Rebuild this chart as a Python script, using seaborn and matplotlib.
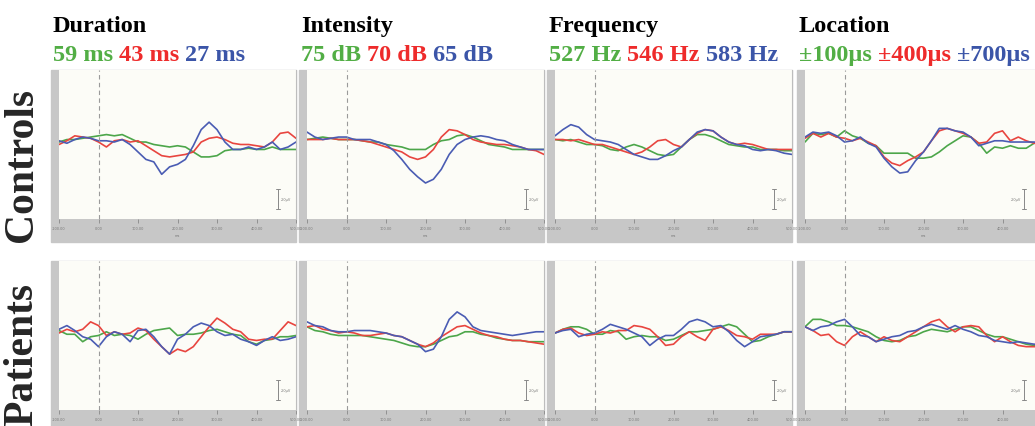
import numpy as np
import pandas as pd
import matplotlib
matplotlib.use("Agg")
import matplotlib.pyplot as plt
from matplotlib.patches import Rectangle
import seaborn as sns

# ======================================
# DATA (µV, 20 ms steps)
# ======================================
time_ms = list(range(-100, 501, 20))

columns = ["Duration", "Intensity", "Frequency", "Location"]
rows = ["Controls", "Patients"]
cond_labels = {
    "Duration": ["59 ms", "43 ms", "27 ms"],
    "Intensity": ["75 dB", "70 dB", "65 dB"],
    "Frequency": ["527 Hz", "546 Hz", "583 Hz"],
    "Location": ["±100µs", "±400µs", "±700µs"],
}

# Controls
ctrl_dur_green = [0.0, 0.2, 0.2, 0.3, 0.4, 0.5, 0.6, 0.5, 0.6, 0.3, 0.0, 0.0, -0.2, -0.3, -0.4, -0.3, -0.4, -0.8, -1.2, -1.2, -1.1, -0.7, -0.6, -0.6, -0.5, -0.6, -0.6, -0.4, -0.6, -0.6, -0.6]
ctrl_dur_red = [-0.2, 0.1, 0.5, 0.4, 0.3, 0.0, -0.4, 0.1, 0.2, 0.0, 0.1, -0.3, -0.7, -1.1, -1.2, -1.1, -1.0, -0.8, 0.0, 0.3, 0.4, 0.2, -0.1, -0.2, -0.2, -0.3, -0.4, 0.0, 0.7, 0.8, 0.3]
ctrl_dur_blue = [0.1, -0.1, 0.2, 0.4, 0.3, 0.1, 0.1, 0.0, 0.2, -0.2, -0.8, -1.4, -1.6, -2.6, -2.0, -1.8, -1.4, -0.3, 1.0, 1.6, 1.0, 0.0, -0.6, -0.6, -0.4, -0.6, -0.4, 0.0, -0.6, -0.4, 0.0]

ctrl_int_green = [0.2, 0.3, 0.4, 0.3, 0.2, 0.2, 0.2, 0.1, 0.0, 0.0, -0.2, -0.3, -0.4, -0.6, -0.6, -0.6, -0.2, 0.1, 0.2, 0.5, 0.6, 0.4, 0.1, -0.2, -0.3, -0.4, -0.6, -0.6, -0.6, -0.6, -0.6]
ctrl_int_red = [0.2, 0.2, 0.2, 0.3, 0.2, 0.2, 0.2, 0.1, 0.0, -0.2, -0.4, -0.6, -0.8, -1.2, -1.4, -1.2, -0.6, 0.4, 1.0, 0.9, 0.6, 0.2, 0.0, -0.1, -0.2, -0.2, -0.3, -0.4, -0.6, -0.7, -1.0]
ctrl_int_blue = [0.8, 0.4, 0.2, 0.3, 0.4, 0.4, 0.2, 0.2, 0.2, 0.0, -0.2, -0.7, -1.4, -2.2, -2.8, -3.3, -3.0, -2.2, -1.0, -0.2, 0.2, 0.4, 0.5, 0.4, 0.2, 0.1, -0.2, -0.4, -0.6, -0.6, -0.6]

ctrl_freq_green = [0.2, 0.1, 0.2, 0.0, -0.2, -0.2, -0.3, -0.6, -0.7, -0.4, -0.2, -0.4, -0.7, -1.0, -1.1, -1.0, -0.4, 0.2, 0.6, 0.6, 0.4, 0.1, -0.2, -0.3, -0.4, -0.4, -0.6, -0.6, -0.6, -0.7, -0.7]
ctrl_freq_red = [0.2, 0.2, 0.1, 0.2, 0.0, -0.2, -0.2, -0.4, -0.6, -0.8, -1.0, -0.8, -0.4, 0.1, 0.2, -0.2, -0.4, 0.2, 0.7, 1.0, 0.9, 0.4, 0.0, -0.2, -0.1, -0.2, -0.4, -0.6, -0.6, -0.6, -0.6]
ctrl_freq_blue = [0.5, 1.0, 1.4, 1.2, 0.6, 0.2, 0.1, 0.0, -0.2, -0.6, -1.0, -1.2, -1.4, -1.4, -1.1, -0.7, -0.4, 0.2, 0.8, 1.0, 0.9, 0.4, 0.0, -0.2, -0.3, -0.6, -0.7, -0.6, -0.7, -0.9, -1.0]

ctrl_loc_green = [0.0, 0.7, 0.6, 0.7, 0.4, 0.9, 0.5, 0.3, -0.1, -0.3, -0.9, -0.9, -0.9, -0.9, -1.3, -1.3, -1.2, -0.8, -0.3, 0.1, 0.5, 0.4, -0.1, -0.9, -0.4, -0.5, -0.3, -0.5, -0.5, -0.1, -0.1]
ctrl_loc_red = [0.3, 0.7, 0.4, 0.7, 0.4, 0.3, 0.1, 0.3, 0.0, -0.3, -1.2, -1.7, -1.9, -1.5, -1.2, -0.8, 0.1, 0.9, 1.1, 0.9, 0.7, 0.4, -0.1, 0.0, 0.7, 0.9, 0.1, 0.4, 0.1, -0.1, -0.1]
ctrl_loc_blue = [0.4, 0.8, 0.7, 0.8, 0.5, 0.0, 0.1, 0.4, -0.1, -0.4, -1.3, -2.0, -2.5, -2.4, -1.5, -0.8, 0.1, 1.1, 1.1, 0.9, 0.8, 0.4, -0.3, -0.1, 0.1, 0.1, 0.0, 0.0, 0.0, 0.0, -0.1]

# Patients
pat_dur_green = [0.2, -0.1, -0.1, -0.7, -0.3, -0.2, 0.1, -0.2, -0.1, -0.2, -0.5, -0.1, 0.2, 0.3, 0.4, -0.2, -0.1, -0.1, 0.0, 0.2, 0.3, 0.1, -0.1, -0.2, -0.7, -0.9, -0.6, -0.5, -0.3, -0.3, -0.2]
pat_dur_red = [0.0, 0.3, 0.1, 0.3, 0.9, 0.6, -0.2, 0.1, -0.1, 0.0, 0.4, 0.2, -0.5, -1.1, -1.7, -1.3, -1.5, -1.1, -0.3, 0.5, 1.2, 0.8, 0.3, 0.1, -0.5, -0.6, -0.5, -0.5, 0.2, 0.9, 0.6]
pat_dur_blue = [0.3, 0.6, 0.2, -0.3, -0.5, -1.1, -0.3, 0.1, -0.1, -0.7, 0.2, 0.3, -0.3, -1.1, -1.7, -0.5, -0.1, 0.5, 0.8, 0.6, 0.1, -0.2, -0.1, -0.5, -0.7, -1.0, -0.6, -0.3, -0.6, -0.5, -0.3]

pat_int_green = [0.5, 0.2, 0.1, -0.1, -0.2, -0.2, -0.2, -0.2, -0.3, -0.4, -0.5, -0.6, -0.8, -1.0, -1.1, -1.1, -0.9, -0.6, -0.3, -0.2, 0.1, 0.1, -0.1, -0.2, -0.4, -0.5, -0.6, -0.6, -0.7, -0.7, -0.7]
pat_int_red = [0.5, 0.6, 0.3, 0.2, 0.0, 0.1, 0.0, -0.2, -0.2, -0.1, 0.0, -0.2, -0.3, -0.6, -0.9, -1.1, -0.8, -0.3, 0.1, 0.5, 0.6, 0.3, 0.0, -0.2, -0.3, -0.5, -0.6, -0.6, -0.7, -0.8, -0.9]
pat_int_blue = [0.9, 0.6, 0.5, 0.2, 0.1, 0.1, 0.2, 0.2, 0.2, 0.1, 0.0, -0.2, -0.3, -0.6, -0.9, -1.5, -1.3, -0.3, 1.1, 1.7, 1.3, 0.5, 0.2, 0.1, 0.0, -0.1, -0.2, -0.1, 0.0, 0.1, 0.1]

pat_freq_green = [0.0, 0.3, 0.5, 0.5, 0.3, -0.1, -0.1, 0.2, 0.1, -0.5, -0.3, -0.2, -0.3, -0.3, -0.6, -0.5, -0.2, 0.1, 0.1, 0.2, 0.3, 0.5, 0.7, 0.5, -0.1, -0.7, -0.6, -0.3, -0.1, 0.1, 0.1]
pat_freq_red = [0.0, 0.3, 0.4, 0.0, -0.2, -0.1, 0.1, 0.0, 0.2, 0.2, 0.6, 0.5, 0.3, -0.3, -1.0, -0.9, -0.3, 0.1, -0.3, -0.6, 0.3, 0.5, 0.2, -0.2, -0.3, -0.5, -0.1, -0.1, -0.1, 0.1, 0.1]
pat_freq_blue = [0.0, 0.2, 0.3, -0.3, -0.1, 0.0, 0.3, 0.7, 0.5, 0.3, 0.0, -0.3, -1.0, -0.5, -0.2, -0.2, 0.3, 0.9, 1.1, 0.9, 0.5, 0.6, 0.1, -0.6, -1.1, -0.7, -0.3, -0.2, -0.1, 0.1, 0.1]

pat_loc_green = [0.5, 1.1, 1.1, 0.9, 0.6, 0.6, 0.5, 0.3, 0.1, -0.3, -0.6, -0.7, -0.6, -0.3, -0.2, 0.1, 0.3, 0.2, 0.1, 0.3, 0.5, 0.5, 0.2, -0.1, -0.3, -0.3, -0.5, -0.7, -0.9, -1.0, -1.0]
pat_loc_red = [0.5, 0.2, -0.2, -0.1, -0.7, -1.0, -0.3, 0.1, -0.3, -0.7, -0.3, -0.6, -0.7, -0.3, 0.1, 0.5, 0.9, 1.1, 0.5, 0.1, 0.5, 0.6, 0.5, -0.2, -0.7, -0.3, -0.7, -1.0, -1.1, -1.1, -1.1]
pat_loc_blue = [0.5, 0.2, 0.5, 0.6, 0.9, 1.1, 0.5, -0.2, -0.3, -0.7, -0.5, -0.3, -0.2, 0.1, 0.2, 0.5, 0.7, 0.5, 0.3, 0.6, 0.3, 0.1, -0.2, -0.3, -0.6, -0.7, -0.8, -0.7, -0.8, -0.9, -0.9]

traces = {
    ("Controls", "Duration"): (ctrl_dur_green, ctrl_dur_red, ctrl_dur_blue),
    ("Controls", "Intensity"): (ctrl_int_green, ctrl_int_red, ctrl_int_blue),
    ("Controls", "Frequency"): (ctrl_freq_green, ctrl_freq_red, ctrl_freq_blue),
    ("Controls", "Location"): (ctrl_loc_green, ctrl_loc_red, ctrl_loc_blue),
    ("Patients", "Duration"): (pat_dur_green, pat_dur_red, pat_dur_blue),
    ("Patients", "Intensity"): (pat_int_green, pat_int_red, pat_int_blue),
    ("Patients", "Frequency"): (pat_freq_green, pat_freq_red, pat_freq_blue),
    ("Patients", "Location"): (pat_loc_green, pat_loc_red, pat_loc_blue),
}

line_colors = ["#4ca64a", "#e8453f", "#4a5cb3"]
text_colors = ["#52ae45", "#ee2b2b", "#3b55a8"]

# ======================================
# FIGURE
# ======================================
sns.set_theme(style="white")
plt.rcParams["font.family"] = ["Liberation Serif", "DejaVu Serif"]

W, H = 1035, 427
fig = plt.figure(figsize=(W / 100, H / 100), dpi=100)
fig.patch.set_facecolor("white")


def fbox(x, y_top, w, h):
    # pixel box -> figure fraction [left, bottom, width, height]
    return [x / W, 1 - (y_top + h) / H, w / W, h / H]


col_x = [51, 299, 547, 797]
row_top = [71, 262]
frame_w, data_h, strip_w, strip_h = 245, 149, 8, 23

for r, row in enumerate(rows):
    for c, col in enumerate(columns):
        x0, y0 = col_x[c], row_top[r]
        last_col = c == len(columns) - 1
        # gray frame behind the data area
        fig.add_artist(Rectangle((x0 / W, 1 - (y0 + data_h + strip_h) / H),
                                 frame_w / W, (data_h + strip_h) / H,
                                 transform=fig.transFigure, color="#c7c7c7", zorder=0))
        ax = fig.add_axes(fbox(x0 + strip_w, y0, frame_w - strip_w, data_h))
        ax.set_facecolor("#fcfcf7")

        g, rd, b = traces[(row, col)]
        df = pd.DataFrame({
            "ms": time_ms * 3,
            "uV": g + rd + b,
            "cond": ["g"] * len(g) + ["r"] * len(rd) + ["b"] * len(b),
        })
        sns.lineplot(data=df, x="ms", y="uV", hue="cond", palette=line_colors,
                     hue_order=["g", "r", "b"], legend=False, linewidth=1.2, ax=ax)

        ax.axvline(0, color="#9a9a9a", lw=0.8, ls=(0, (4, 3)))
        # calibration bar
        ax.plot([455, 455], [-3.8, -5.4], color="#888888", lw=0.7)
        ax.plot([450, 460], [-3.8, -3.8], color="#888888", lw=0.7)
        ax.plot([450, 460], [-5.4, -5.4], color="#888888", lw=0.7)
        if last_col:
            ax.text(448, -4.6, "2.0µV", fontsize=2.5, color="#777777",
                    va="center", ha="right", family="DejaVu Sans")
        else:
            ax.text(462, -4.6, "2.0µV", fontsize=2.5, color="#777777",
                    va="center", family="DejaVu Sans")

        ax.set_xlim(-100, 500)
        ax.set_ylim(-6.2, 5.8)
        ticks = list(range(-100, 401 if last_col else 501, 100))
        ax.set_xticks(ticks)
        ax.set_xticklabels([f"{t:.2f}" for t in ticks], fontsize=2.5,
                           color="#777777", family="DejaVu Sans")
        ax.tick_params(axis="x", direction="out", length=3, width=0.6,
                       color="#888888", pad=2, bottom=True)
        ax.set_yticks([])
        ax.set_xlabel("ms", fontsize=2.5, color="#777777", labelpad=2,
                      family="DejaVu Sans")
        ax.set_ylabel("")
        for side in ["top", "left", "bottom"]:
            ax.spines[side].set_visible(False)
        ax.spines["right"].set_color("#bdbdbd")
        ax.spines["right"].set_linewidth(0.8)

# column titles
renderer = fig.canvas.get_renderer()
for c, col in enumerate(columns):
    x = col_x[c] + 2
    fig.text(x / W, 1 - 32 / H, col, fontsize=17.5, fontweight="bold",
             color="black", va="baseline")
    xp = x
    for k, lab in enumerate(cond_labels[col]):
        t = fig.text(xp / W, 1 - 61 / H, lab, fontsize=17.5, fontweight="bold",
                     color=text_colors[k], va="baseline")
        bb = t.get_window_extent(renderer)
        xp = xp + bb.width + 6

# row labels
fig.text(22 / W, 1 - 165 / H, "Controls", fontsize=30, fontweight="bold",
         rotation=90, ha="center", va="center")
fig.text(22 / W, 1 - 355 / H, "Patients", fontsize=30, fontweight="bold",
         rotation=90, ha="center", va="center")

fig.savefig("out.png", dpi=100)
